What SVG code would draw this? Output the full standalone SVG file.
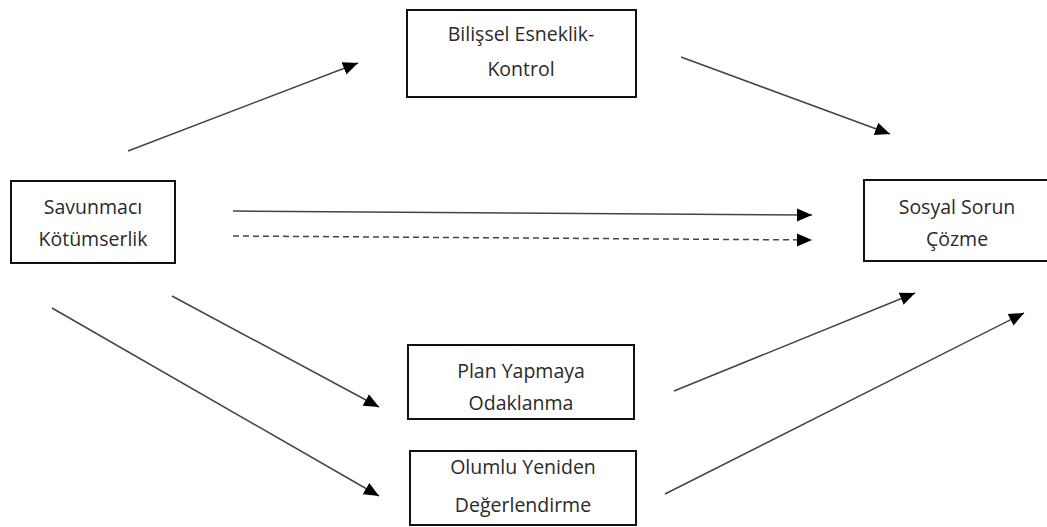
<svg xmlns="http://www.w3.org/2000/svg" width="1047" height="527" viewBox="0 0 1047 527">
<style>
.box{fill:#fff;stroke:#111;stroke-width:2}
.t{font-family:"Open Sans","Liberation Sans",sans-serif;font-size:19.5px;fill:#2a2a2a;text-anchor:middle}
.c{stroke:#444;stroke-width:1.5;fill:none;marker-end:url(#ah)}
.d{stroke-dasharray:6 4}
</style>
<defs>
<marker id="ah" markerUnits="userSpaceOnUse" markerWidth="16" markerHeight="14" refX="15" refY="6.5" orient="auto">
<path d="M0,0 L15,6.5 L0,13 Z" fill="#000"/>
</marker>
</defs>
<rect width="1047" height="527" fill="#fff"/>
<g id="connectors">
<line class="c" x1="128" y1="151" x2="358" y2="63"/>
<line class="c" x1="681" y1="57" x2="890" y2="134"/>
<line class="c" x1="233" y1="211" x2="812" y2="215"/>
<line class="c d" x1="233" y1="236" x2="812" y2="240"/>
<line class="c" x1="172" y1="296" x2="379" y2="407"/>
<line class="c" x1="52" y1="308" x2="379" y2="496"/>
<line class="c" x1="674" y1="391" x2="915" y2="293"/>
<line class="c" x1="665" y1="494" x2="1024" y2="313"/>
</g>
<g id="bilissel">
<rect class="box" x="407" y="10" width="229" height="87"/>
<text class="t" x="521" y="41">Bilişsel Esneklik-</text>
<text class="t" x="521" y="76">Kontrol</text>
</g>
<g id="savunmaci">
<rect class="box" x="11" y="181" width="164" height="82"/>
<text class="t" x="93" y="214">Savunmacı</text>
<text class="t" x="93" y="246">Kötümserlik</text>
</g>
<g id="sosyal">
<rect class="box" x="864" y="180" width="200" height="81"/>
<text class="t" x="957" y="214">Sosyal Sorun</text>
<text class="t" x="957" y="246">Çözme</text>
</g>
<g id="plan">
<rect class="box" x="408" y="345" width="226" height="74"/>
<text class="t" x="521" y="378">Plan Yapmaya</text>
<text class="t" x="521" y="410">Odaklanma</text>
</g>
<g id="olumlu">
<rect class="box" x="410" y="451" width="226" height="74"/>
<text class="t" x="523" y="474">Olumlu Yeniden</text>
<text class="t" x="523" y="512">Değerlendirme</text>
</g>
</svg>
